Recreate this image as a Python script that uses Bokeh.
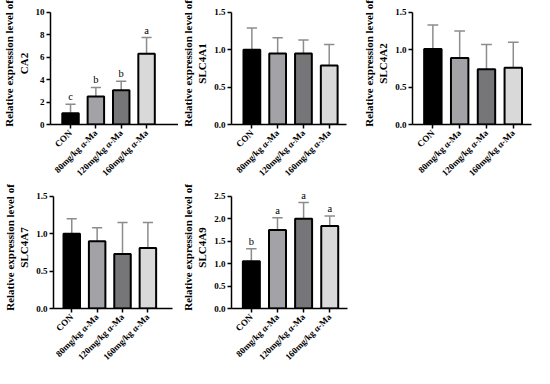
from bokeh.plotting import figure
from bokeh.models import Range1d, FixedTicker, PrintfTickFormatter, ColumnDataSource, LabelSet
from bokeh.layouts import column, row
from bokeh.embed import file_html
from bokeh.resources import INLINE
import math

categories = ["CON", "80mg/kg \u03b1-Ma", "120mg/kg \u03b1-Ma", "160mg/kg \u03b1-Ma"]
bar_colors = ["#000000", "#a3a3a7", "#767678", "#d9d9d9"]

ca2_mean = [1.0, 2.5, 3.05, 6.3]
ca2_sd = [0.8, 0.8, 0.8, 1.45]
ca2_letters = ["c", "b", "b", "a"]

slc4a1_mean = [1.0, 0.95, 0.95, 0.79]
slc4a1_sd = [0.29, 0.21, 0.18, 0.28]

slc4a2_mean = [1.01, 0.89, 0.74, 0.76]
slc4a2_sd = [0.32, 0.36, 0.33, 0.34]

slc4a7_mean = [1.0, 0.9, 0.73, 0.81]
slc4a7_sd = [0.2, 0.18, 0.42, 0.34]

slc4a9_mean = [1.05, 1.75, 2.0, 1.84]
slc4a9_sd = [0.28, 0.27, 0.36, 0.22]
slc4a9_letters = ["b", "a", "a", "a"]

ca2_ticks = [0, 2, 4, 6, 8, 10]
slc_ticks = [0, 0.5, 1.0, 1.5]
slc4a9_ticks = [0, 0.5, 1.0, 1.5, 2.0, 2.5]

SERIF = "Liberation Serif"
AXIS_PX = 115   # pixel height of the 0..max axis
EXTRA_PX = 10   # head room above the axis top for letters


def panel(gene, means, sds, letters, yticks, fmt, pad_l, pad_r, width, left, right):
    xs = [1, 2, 3, 4]
    tops = [m + s for m, s in zip(means, sds)]
    src = ColumnDataSource(dict(
        x=xs, top=means, err=tops,
        cx0=[x - 0.2 for x in xs], cx1=[x + 0.2 for x in xs],
        fill=bar_colors,
        letter=letters if letters else [""] * 4,
    ))
    ymax = yticks[-1]
    p = figure(width=width, height=184,
               x_range=Range1d(1 - pad_l, 4 + pad_r),
               y_range=Range1d(0, ymax * (AXIS_PX + EXTRA_PX) / AXIS_PX),
               output_backend="svg", toolbar_location=None,
               min_border_left=left, min_border_right=right,
               min_border_top=12 - EXTRA_PX, min_border_bottom=57)
    p.outline_line_color = None
    p.xgrid.visible = False
    p.ygrid.visible = False
    p.background_fill_color = "white"

    p.segment(x0="x", y0="top", x1="x", y1="err", source=src,
              line_color="#8c8c8c", line_width=1.5)
    p.segment(x0="cx0", y0="err", x1="cx1", y1="err", source=src,
              line_color="#8c8c8c", line_width=1.5)
    p.vbar(x="x", top="top", bottom=0, width=0.65, source=src,
           fill_color="fill", line_color="black", line_width=2)
    if letters:
        p.add_layout(LabelSet(x="x", y="err", text="letter", source=src,
                              text_font=SERIF, text_font_size="10.5px",
                              text_align="center", text_baseline="bottom",
                              y_offset=2, text_color="#000000"))

    for ax in (p.xaxis[0], p.yaxis[0]):
        ax.axis_line_width = 1.5
        ax.axis_line_color = "black"
        ax.major_tick_line_width = 1.5
        ax.major_tick_in = 0
        ax.major_tick_out = 4
        ax.minor_tick_line_color = None
        ax.major_label_text_font = SERIF
        ax.major_label_text_font_style = "bold"
        ax.major_label_text_font_size = "9px"
        ax.major_label_text_color = "black"
        ax.major_label_standoff = 2

    p.xaxis[0].ticker = FixedTicker(ticks=xs)
    p.xaxis[0].major_label_overrides = {x: c for x, c in zip(xs, categories)}
    p.xaxis[0].major_label_orientation = math.pi / 4
    p.xaxis[0].major_label_standoff = 3

    p.yaxis[0].ticker = FixedTicker(ticks=yticks)
    p.yaxis[0].bounds = (0, ymax)
    p.yaxis[0].formatter = PrintfTickFormatter(format=fmt)
    p.yaxis[0].axis_label = "Relative expression level of\n" + gene
    p.yaxis[0].axis_label_text_font = SERIF
    p.yaxis[0].axis_label_text_font_style = "bold"
    p.yaxis[0].axis_label_text_font_size = "11px"
    p.yaxis[0].axis_label_text_color = "black"
    p.yaxis[0].axis_label_standoff = 3
    return p


p1 = panel("CA2", ca2_mean, ca2_sd, ca2_letters, ca2_ticks, "%d", 0.79, 1.26, 178, 42, 0)
p2 = panel("SLC4A1", slc4a1_mean, slc4a1_sd, None, slc_ticks, "%.1f", 0.79, 0.67, 176, 48, 8)
p3 = panel("SLC4A2", slc4a2_mean, slc4a2_sd, None, slc_ticks, "%.1f", 0.76, 0.68, 180, 58, 3)
p4 = panel("SLC4A7", slc4a7_mean, slc4a7_sd, None, slc_ticks, "%.1f", 0.72, 0.97, 178, 46, 6)
p5 = panel("SLC4A9", slc4a9_mean, slc4a9_sd, slc4a9_letters, slc4a9_ticks, "%.1f", 0.76, 0.68, 176, 49, 7)

layout = column(row(p1, p2, p3, spacing=0), row(p4, p5, spacing=0), spacing=0)
open("out.html", "w").write(file_html(layout, INLINE))
